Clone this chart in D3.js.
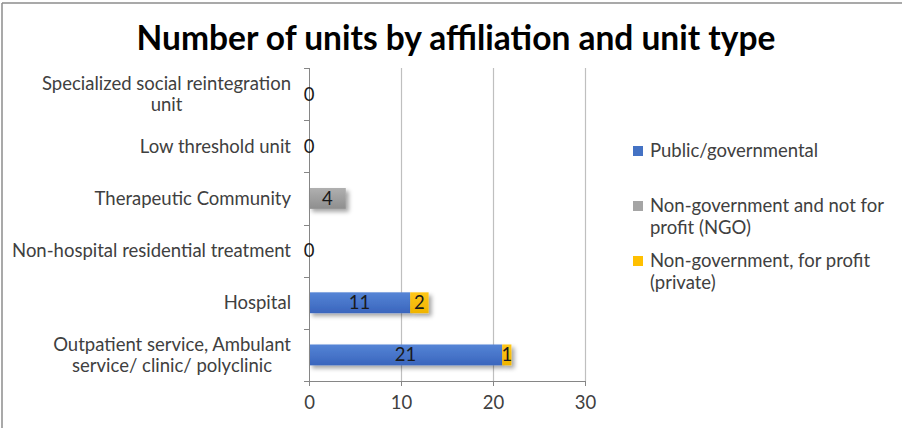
<!DOCTYPE html>
<html>
<head>
<meta charset="utf-8">
<script src="https://cdn.jsdelivr.net/npm/d3@7"></script>
<style>
  html, body { margin: 0; padding: 0; background: #fff; }
  svg { display: block; }
  text { font-family: Lato, "Open Sans", sans-serif; }
</style>
</head>
<body>
<svg id="chart" width="902" height="428"></svg>
<script>
// Unit types (top to bottom) and counts per affiliation
const categories = [
  "Specialized social reintegration unit",
  "Low threshold unit",
  "Therapeutic Community",
  "Non-hospital residential treatment",
  "Hospital",
  "Outpatient service, Ambulant service/ clinic/ polyclinic"
];
// Wrapped form of the category labels as they are printed
const categoryLines = [
  ["Specialized social reintegration", "unit"],
  ["Low threshold unit"],
  ["Therapeutic Community"],
  ["Non-hospital residential treatment"],
  ["Hospital"],
  ["Outpatient service, Ambulant", "service/ clinic/ polyclinic"]
];
const publicUnits  = [0, 0, 0, 0, 11, 21];
const ngoUnits     = [0, 0, 4, 0, 0, 0];
const privateUnits = [0, 0, 0, 0, 2, 1];

const seriesNames = ["Public/governmental", "Non-government and not for profit (NGO)", "Non-government, for profit (private)"];
const legendLines = [["Public/governmental"], ["Non-government and not for", "profit (NGO)"], ["Non-government, for profit", "(private)"]];
const xTicks = [0, 10, 20, 30];
const title = "Number of units by affiliation and unit type";

const keys = ["pub", "ngo", "priv"];
const colors = { pub: ["#5585d6", "#3a65bd"], ngo: ["#b0b0b0", "#8e8e8e"], priv: ["#ffc71a", "#f0b400"] };
const swatch = { pub: "#4472c4", ngo: "#a5a5a5", priv: "#ffc000" };

const rows = categories.map((c, i) => ({ cat: c, pub: publicUnits[i], ngo: ngoUnits[i], priv: privateUnits[i] }));

const svg = d3.select("#chart");
const margin = { left: 309, right: 317, top: 68, bottom: 47 };
const W = 902, H = 428;
const FS = 18.5;

const x = d3.scaleLinear().domain([0, 30]).range([margin.left, W - margin.right]);
const y = d3.scaleBand().domain(categories).range([margin.top, H - margin.bottom]).paddingInner(0.6).paddingOuter(0.3);
const yOuter = d3.scaleBand().domain(categories).range([margin.top, H - margin.bottom]);

// Defs: gradients and drop shadow
const defs = svg.append("defs");
keys.forEach(k => {
  const g = defs.append("linearGradient").attr("id", "grad-" + k).attr("x1", 0).attr("y1", 0).attr("x2", 0).attr("y2", 1);
  g.append("stop").attr("offset", "0%").attr("stop-color", colors[k][0]);
  g.append("stop").attr("offset", "100%").attr("stop-color", colors[k][1]);
});
const f = defs.append("filter").attr("id", "shadow").attr("x", "-20%").attr("y", "-50%").attr("width", "160%").attr("height", "250%");
f.append("feDropShadow").attr("dx", 3).attr("dy", 3).attr("stdDeviation", 2).attr("flood-color", "#000").attr("flood-opacity", 0.35);

// Outer frame (left and top edges)
svg.append("line").attr("x1", 2).attr("x2", 2).attr("y1", 3).attr("y2", H).attr("stroke", "#8c8c8c").attr("stroke-width", 1.5);
svg.append("line").attr("x1", 2).attr("x2", W).attr("y1", 3).attr("y2", 3).attr("stroke", "#8c8c8c").attr("stroke-width", 1.5);

// Title
svg.append("text").attr("x", 456).attr("y", 50).attr("text-anchor", "middle")
  .attr("font-size", 33.5).attr("font-weight", 700).attr("fill", "#000").text(title);

// Vertical gridlines
svg.append("g").selectAll("line").data(xTicks.filter(t => t > 0)).join("line")
  .attr("x1", d => Math.round(x(d)) + 0.5).attr("x2", d => Math.round(x(d)) + 0.5)
  .attr("y1", margin.top).attr("y2", H - margin.bottom)
  .attr("stroke", "#bfbfbf").attr("stroke-width", 1.2);

// Stacked bars
const stack = d3.stack().keys(keys)(rows);
const layers = svg.append("g").selectAll("g").data(stack).join("g")
  .attr("fill", d => "url(#grad-" + d.key + ")").attr("filter", "url(#shadow)");
layers.selectAll("rect").data(d => d.filter(p => p[1] - p[0] > 0)).join("rect")
  .attr("x", d => x(d[0])).attr("width", d => x(d[1]) - x(d[0]))
  .attr("y", d => y(d.data.cat)).attr("height", y.bandwidth());

// Axes
const xAxis = d3.axisBottom(x).tickValues(xTicks).tickSize(5).tickPadding(10);
const gx = svg.append("g").attr("transform", `translate(0,${H - margin.bottom})`).call(xAxis);
gx.select(".domain").attr("stroke", "#868686");
gx.selectAll(".tick line").attr("stroke", "#868686");
gx.selectAll(".tick text").attr("font-size", FS).attr("fill", "#404040").attr("font-family", "Lato, sans-serif");

// Category axis line and ticks at band boundaries
svg.append("line").attr("x1", x(0) + 0.5).attr("x2", x(0) + 0.5).attr("y1", margin.top).attr("y2", H - margin.bottom).attr("stroke", "#868686");
const bounds = categories.map(c => yOuter(c)).concat([H - margin.bottom]);
svg.append("g").selectAll("line").data(bounds).join("line")
  .attr("x1", x(0) - 5).attr("x2", x(0)).attr("y1", d => Math.round(d) + 0.5).attr("y2", d => Math.round(d) + 0.5)
  .attr("stroke", "#868686");

// Category labels (multi-line labels centred on each other, block right-aligned)
const labelRight = 291, lineH = 21;
categories.forEach((c, i) => {
  const lines = categoryLines[i];
  const cy = yOuter(c) + yOuter.bandwidth() / 2;
  const g = svg.append("g");
  const texts = lines.map((ln, j) => g.append("text")
    .attr("y", cy + (j - (lines.length - 1) / 2) * lineH).attr("dy", "0.35em")
    .attr("font-size", FS).attr("fill", "#404040").text(ln));
  const widths = texts.map(t => t.node().getComputedTextLength());
  const bw = d3.max(widths);
  texts.forEach(t => t.attr("x", labelRight - bw / 2).attr("text-anchor", "middle"));
});

// Value labels
const labels = [];
stack.forEach(layer => layer.forEach(p => {
  const v = p[1] - p[0];
  if (v > 0) labels.push({ x: (x(p[0]) + x(p[1])) / 2, cat: p.data.cat, v });
}));
rows.forEach(r => { if (r.pub + r.ngo + r.priv === 0) labels.push({ x: x(0), cat: r.cat, v: 0 }); });
svg.append("g").selectAll("text").data(labels).join("text")
  .attr("x", d => d.x).attr("y", d => y(d.cat) + y.bandwidth() / 2).attr("dy", "0.35em")
  .attr("text-anchor", "middle").attr("font-size", FS).attr("fill", "#1a1a1a").text(d => d.v);

// Legend
const legendY = [151, 206, 261];
const lg = svg.append("g");
keys.forEach((k, i) => {
  lg.append("rect").attr("x", 633).attr("y", legendY[i] - 5).attr("width", 10).attr("height", 10).attr("fill", swatch[k]);
  legendLines[i].forEach((ln, j) => lg.append("text")
    .attr("x", 650).attr("y", legendY[i] + j * 22).attr("dy", "0.35em")
    .attr("font-size", FS).attr("fill", "#404040").text(ln));
});
</script>
</body>
</html>
